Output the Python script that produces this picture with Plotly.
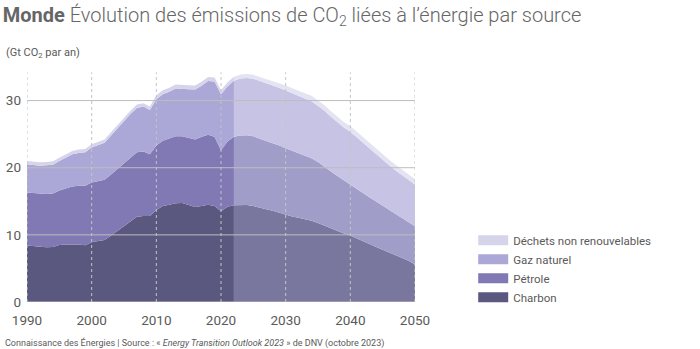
import plotly.graph_objects as go

# ---------------- data (Gt CO2 per year) ----------------
years = list(range(1990, 2051))
last_hist_year = 2022

charbon = [8.4, 8.3, 8.2, 8.15, 8.2, 8.5, 8.55, 8.6, 8.55, 8.45,
           8.9, 9.1, 9.25, 9.9, 10.6, 11.2, 12.0, 12.7, 12.8, 12.8,
           13.7, 14.3, 14.5, 14.7, 14.75, 14.45, 14.15, 14.3, 14.5, 14.3,
           13.5, 14.2, 14.4, 14.45, 14.45, 14.3, 14.0, 13.8, 13.6, 13.3,
           13.0, 12.75, 12.55, 12.35, 12.1, 11.75, 11.35, 10.95, 10.55, 10.2,
           9.9, 9.45, 9.0, 8.6, 8.2, 7.8, 7.4, 7.0, 6.6, 6.15, 5.6]
petrole = [7.9, 7.9, 7.9, 7.95, 7.95, 8.1, 8.35, 8.6, 8.75, 8.85,
           8.9, 8.9, 8.95, 9.1, 9.2, 9.4, 9.5, 9.6, 9.6, 9.2,
           9.6, 9.7, 9.85, 10.0, 9.95, 10.0, 10.05, 10.3, 10.4, 10.3,
           9.1, 9.7, 10.2, 10.35, 10.4, 10.4, 10.3, 10.2, 10.1, 10.0,
           9.9, 9.75, 9.65, 9.45, 9.3, 9.1, 8.85, 8.5, 8.2, 7.9,
           7.5, 7.3, 7.15, 6.95, 6.75, 6.5, 6.3, 6.1, 5.9, 5.7, 5.7]
gaz = [4.2, 4.2, 4.2, 4.25, 4.3, 4.4, 4.6, 4.8, 4.9, 5.0,
       5.2, 5.3, 5.5, 5.8, 6.1, 6.4, 6.5, 6.6, 6.7, 6.6,
       6.9, 6.95, 6.95, 7.1, 7.1, 7.25, 7.45, 7.6, 8.0, 8.25,
       8.35, 8.2, 8.35, 8.5, 8.5, 8.55, 8.6, 8.6, 8.55, 8.6,
       8.6, 8.6, 8.55, 8.6, 8.5, 8.35, 8.3, 8.15, 8.05, 7.9,
       7.95, 7.75, 7.55, 7.35, 7.05, 6.85, 6.65, 6.5, 6.4, 6.3, 6.2]
dechets = [0.5, 0.5, 0.5, 0.5, 0.5, 0.5, 0.5, 0.5, 0.5, 0.5,
           0.5, 0.5, 0.5, 0.5, 0.5, 0.5, 0.5, 0.5, 0.5, 0.5,
           0.6, 0.6, 0.6, 0.6, 0.6, 0.6, 0.6, 0.6, 0.6, 0.6,
           0.6, 0.6, 0.6, 0.6, 0.6, 0.6, 0.6, 0.6, 0.65, 0.7,
           0.75, 0.75, 0.75, 0.75, 0.8, 0.8, 0.8, 0.8, 0.8, 0.8,
           0.85, 0.85, 0.85, 0.85, 0.85, 0.85, 0.85, 0.85, 0.85, 0.85, 0.8]

series_names = ["Charbon", "Pétrole", "Gaz naturel", "Déchets non renouvelables"]
series_values = [charbon, petrole, gaz, dechets]
hist_colors = ["#5b5880", "#8079b4", "#aba7d7", "#d6d4eb"]
proj_colors = ["#7a779f", "#a19dc9", "#c6c3e5", "#e4e3f2"]

x_ticks = [1990, 2000, 2010, 2020, 2030, 2040, 2050]
y_ticks = [0, 10, 20, 30]

TXT = "#5a5a5a"
FONT = "Roboto"

# ---------------- figure ----------------
fig = go.Figure()
cut = years.index(last_hist_year)
hist_x = years[:cut + 1]
proj_x = years[cut:]

for name, vals, hc in zip(series_names, series_values, hist_colors):
    fig.add_trace(go.Scatter(x=hist_x, y=vals[:cut + 1], stackgroup="hist",
                             mode="lines", line=dict(width=0, color=hc),
                             fillcolor=hc, name=name, showlegend=False,
                             hoverinfo="skip"))
for name, vals, pc in zip(series_names, series_values, proj_colors):
    fig.add_trace(go.Scatter(x=proj_x, y=vals[cut:], stackgroup="proj",
                             mode="lines", line=dict(width=0, color=pc),
                             fillcolor=pc, name=name + " (projection)",
                             showlegend=False, hoverinfo="skip"))

# legend entries (top to bottom: Déchets, Gaz, Pétrole, Charbon)
for name, hc in reversed(list(zip(series_names, hist_colors))):
    fig.add_trace(go.Scatter(x=[None], y=[None], mode="lines",
                             line=dict(color=hc, width=12), name=name,
                             showlegend=True))

shapes = []
for yt in y_ticks:
    shapes.append(dict(type="line", xref="x", yref="y", x0=x_ticks[0], x1=x_ticks[-1] + 0.6,
                       y0=yt, y1=yt, line=dict(color="#bdbdbd", width=1), layer="above"))
for xt in x_ticks:
    shapes.append(dict(type="line", xref="x", yref="y", x0=xt, x1=xt, y0=0, y1=34.2,
                       line=dict(color="#c4c4c4", width=1, dash="dot"), layer="above"))

fig.update_layout(
    width=700, height=349,
    margin=dict(l=27, r=285, t=67, b=47, autoexpand=False),
    paper_bgcolor="white", plot_bgcolor="white",
    font=dict(family=FONT, color=TXT, size=12),
    title=dict(text="<b>Monde</b> Évolution des émissions de CO<sub>2</sub> liées à l’énergie par source",
               x=0.004, xref="container", xanchor="left",
               y=0.957, yref="container", yanchor="middle",
               font=dict(family=FONT, size=20, color="#666666", weight=300)),
    xaxis=dict(range=[1990, 2050], tickvals=x_ticks, showgrid=False, zeroline=False,
               showline=False, ticks="", tickfont=dict(size=13.5, color=TXT),
               ticklabelstandoff=8, fixedrange=True, automargin=False),
    yaxis=dict(range=[0, 35], tickvals=y_ticks, showgrid=False, zeroline=False,
               showline=False, ticks="", tickfont=dict(size=13.5, color=TXT),
               ticklabelstandoff=5, fixedrange=True, automargin=False),
    legend=dict(x=1.15, xanchor="left", y=0.325, yanchor="top", traceorder="normal",
                font=dict(size=11.5, color=TXT), itemwidth=30, bgcolor="rgba(0,0,0,0)",
                tracegroupgap=0),
    shapes=shapes,
    annotations=[
        dict(text="(Gt CO<sub>2</sub> par an)", xref="paper", yref="paper",
             x=-0.058, y=1.061, xanchor="left", yanchor="middle", showarrow=False,
             font=dict(size=11, color=TXT)),
        dict(text="Connaissance des Énergies | Source : « <i>Energy Transition Outlook 2023</i> » de DNV (octobre 2023)",
             xref="paper", yref="paper", x=-0.062, y=-0.173, xanchor="left", yanchor="middle",
             showarrow=False, font=dict(size=9, color=TXT)),
    ],
)

fig.write_html("out.html")
